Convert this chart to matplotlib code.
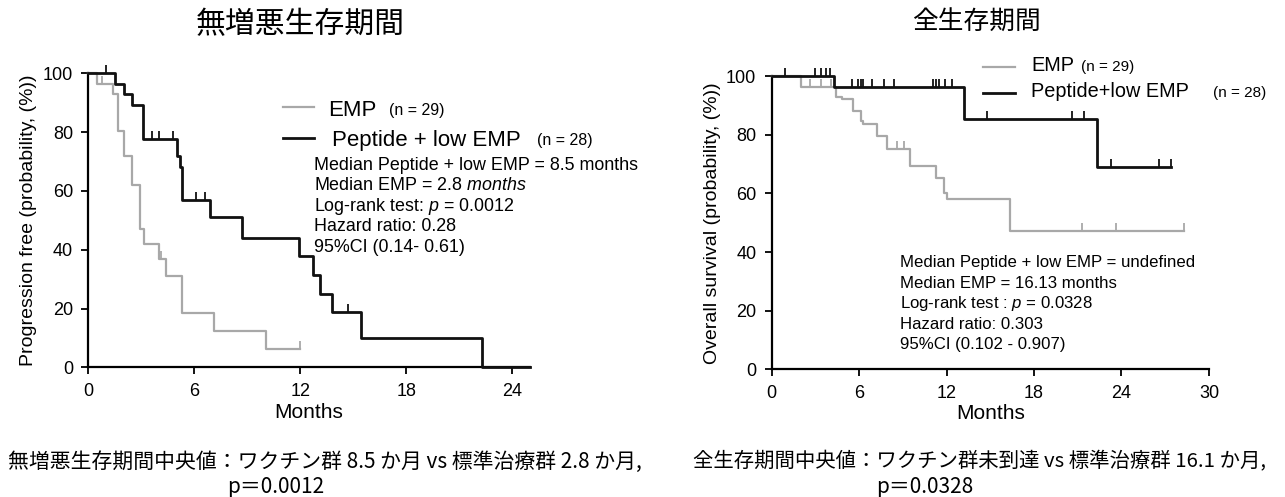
import numpy as np
import matplotlib
matplotlib.use("Agg")
import matplotlib.pyplot as plt

plt.rcParams['font.family'] = ['Liberation Sans', 'Noto Sans CJK JP', 'DejaVu Sans']
plt.rcParams['mathtext.fontset'] = 'custom'
plt.rcParams['mathtext.it'] = 'Liberation Sans:italic'
plt.rcParams['mathtext.rm'] = 'Liberation Sans'

# 無増悪生存期間 (PFS)
pfs_pep_t = [0, 1.5, 2.0, 2.5, 3.1, 5.0, 5.2, 5.3, 6.9, 8.7, 11.9, 12.7, 13.1, 13.8, 15.45, 22.3]
pfs_pep_s = [100, 96.4, 92.9, 89.3, 77.5, 72.0, 68.0, 57.0, 51.0, 44.0, 38.0, 31.5, 25.0, 19.0, 10.0, 0.0]
pfs_pep_end = 25.0
pfs_pep_cens = [1.0, 3.6, 4.0, 4.8, 6.1, 6.6, 14.7]

pfs_emp_t = [0, 0.5, 1.4, 1.7, 2.0, 2.5, 2.95, 3.15, 4.0, 4.4, 5.3, 7.1, 10.05]
pfs_emp_s = [100, 96.5, 93.0, 80.5, 72.0, 62.0, 47.0, 42.0, 37.0, 31.0, 18.5, 12.3, 6.2]
pfs_emp_end = 12.0
pfs_emp_cens = [0.8, 4.1, 12.0]

# 全生存期間 (OS)
os_pep_t = [0, 4.27, 13.2, 22.3]
os_pep_s = [100, 96.4, 85.3, 68.9]
os_pep_end = 27.4
os_pep_cens = [0.95, 3.0, 3.4, 3.7, 4.0, 5.5, 5.9, 6.1, 6.3, 6.9, 7.7, 8.4,
               11.1, 11.3, 11.5, 11.9, 12.4, 14.8, 20.6, 21.4, 23.3, 26.6, 27.4]

os_emp_t = [0, 2.0, 4.4, 4.8, 5.6, 6.1, 6.3, 7.2, 7.9, 9.5, 11.3, 11.8, 12.0, 16.35]
os_emp_s = [100, 96.4, 93.0, 92.2, 88.2, 84.7, 83.6, 79.6, 75.1, 69.4, 65.4, 60.3, 58.0, 47.2]
os_emp_end = 28.3
os_emp_cens = [2.6, 3.4, 4.1, 8.6, 9.1, 21.3, 23.6, 28.3]

BLACK = '#111111'
GRAY = '#a8a8a8'


def km(ax, t, s, end, cens, color, lw):
    tt = list(t) + [end]
    ss = list(s) + [s[-1]]
    ax.step(tt, ss, where='post', color=color, lw=lw, clip_on=False, zorder=3)
    idx = np.searchsorted(t, cens, side='right') - 1
    ax.plot(cens, np.array(s)[idx], linestyle='none', marker=2, markersize=6,
            markeredgewidth=1.3, color=color, clip_on=False, zorder=3)


def style(ax, xmax, xticks, ylabel):
    ax.set_xlim(0, xmax)
    ax.set_ylim(0, 100)
    ax.set_xticks(xticks)
    ax.set_yticks([0, 20, 40, 60, 80, 100])
    for sp in ['top', 'right']:
        ax.spines[sp].set_visible(False)
    for sp in ['left', 'bottom']:
        ax.spines[sp].set_linewidth(1.6)
    ax.tick_params(direction='out', length=5, width=1.3, labelsize=13, pad=6)
    ax.set_xlabel('Months', fontsize=15, labelpad=2)
    ax.set_ylabel(ylabel, fontsize=14, labelpad=4)


fig = plt.figure(figsize=(12.85, 4.97), dpi=100)

# ---- 左: 無増悪生存期間
ax1 = fig.add_axes([0.0687, 0.2606, 0.3437, 0.592])
km(ax1, pfs_emp_t, pfs_emp_s, pfs_emp_end, pfs_emp_cens, GRAY, 1.6)
km(ax1, pfs_pep_t, pfs_pep_s, pfs_pep_end, pfs_pep_cens, BLACK, 2.0)
style(ax1, 25, [0, 6, 12, 18, 24], 'Progression free (probability, (%))')

# legend (manual)
ax1.plot([11.0, 12.8], [88.5, 88.5], color=GRAY, lw=1.6, clip_on=False)
ax1.plot([11.0, 12.8], [78.0, 78.0], color=BLACK, lw=2.0, clip_on=False)
ax1.text(13.6, 87.5, 'EMP', fontsize=16, va='center')
ax1.text(17.0, 87.5, '(n = 29)', fontsize=11.5, va='center')
ax1.text(13.8, 77.0, 'Peptide + low EMP', fontsize=16, va='center')
ax1.text(25.4, 77.0, '(n = 28)', fontsize=11.5, va='center')
stats1 = ['Median Peptide + low EMP = 8.5 months',
          'Median EMP = 2.8 $\\mathit{months}$',
          'Log-rank test: $\\mathit{p}$ = 0.0012',
          'Hazard ratio: 0.28',
          '95%CI (0.14- 0.61)']
for i, line in enumerate(stats1):
    ax1.text(12.75, 68.8 - i * 7.0, line, fontsize=12.9, va='center')

fig.text(0.2335, 0.95, '無増悪生存期間', fontsize=21.5, ha='center', va='center',
         family=['Noto Sans CJK JP'])

# ---- 右: 全生存期間
ax2 = fig.add_axes([0.6005, 0.2569, 0.3403, 0.590])
km(ax2, os_emp_t, os_emp_s, os_emp_end, os_emp_cens, GRAY, 1.6)
km(ax2, os_pep_t, os_pep_s, os_pep_end, os_pep_cens, BLACK, 2.0)
style(ax2, 30, [0, 6, 12, 18, 24, 30], 'Overall survival (probability, (%))')

ax2.plot([14.5, 16.7], [103.0, 103.0], color=GRAY, lw=1.6, clip_on=False)
ax2.plot([14.5, 16.7], [94.4, 94.4], color=BLACK, lw=2.0, clip_on=False)
ax2.text(17.8, 103.5, 'EMP', fontsize=14.3, va='center')
ax2.text(21.2, 103.0, '(n = 29)', fontsize=11, va='center')
ax2.text(17.8, 94.6, 'Peptide+low EMP', fontsize=14.3, va='center')
ax2.text(30.3, 94.4, '(n = 28)', fontsize=11, va='center')
stats2 = ['Median Peptide + low EMP = undefined',
          'Median EMP = 16.13 months',
          'Log-rank test : $\\mathit{p}$ = 0.0328',
          'Hazard ratio: 0.303',
          '95%CI (0.102 - 0.907)']
for i, line in enumerate(stats2):
    ax2.text(8.8, 36.3 - i * 7.0, line, fontsize=12.1, va='center')

fig.text(0.7595, 0.955, '全生存期間', fontsize=18.5, ha='center', va='center',
         family=['Noto Sans CJK JP'])

# ---- 下のキャプション
cap = ['Noto Sans CJK JP', 'DejaVu Sans']
fig.text(0.006, 0.07, '無増悪生存期間中央値：ワクチン群 8.5 か月 vs 標準治療群 2.8 か月,',
         fontsize=15, ha='left', va='center', family=cap)
fig.text(0.177, 0.02, 'p＝0.0012', fontsize=15, ha='left', va='center', family=cap)
fig.text(0.539, 0.07, '全生存期間中央値：ワクチン群未到達 vs 標準治療群 16.1 か月,',
         fontsize=14.7, ha='left', va='center', family=cap)
fig.text(0.682, 0.02, 'p＝0.0328', fontsize=15, ha='left', va='center', family=cap)

fig.savefig('out.png', dpi=100)
